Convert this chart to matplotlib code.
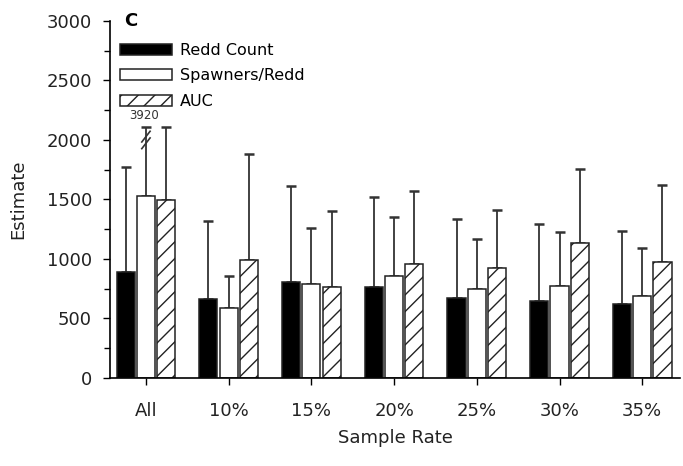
import numpy as np
import matplotlib
matplotlib.use("Agg")
from matplotlib import pyplot as plt

# values (upper error bar ends as drawn)
rates = ["All", "10%", "15%", "20%", "25%", "30%", "35%"]
redd = [893, 661, 809, 765, 670, 650, 622]
redd_top = [1775, 1317, 1616, 1524, 1336, 1294, 1238]
spawn = [1532, 591, 787, 857, 745, 773, 692]
spawn_top = [2112, 857, 1263, 1356, 1171, 1227, 1090]
auc = [1496, 989, 765, 955, 924, 1132, 977]
auc_top = [2112, 1882, 1406, 1569, 1412, 1754, 1624]
broken_label = "3920"   # true upper end of Spawners/Redd, All

plt.rcParams["font.family"] = "DejaVu Sans"
plt.rcParams["hatch.linewidth"] = 1.0

fig = plt.figure(figsize=(6.83, 4.66), dpi=100)
ax = fig.add_axes([0.161, 0.189, 0.835, 0.766])

x = np.arange(len(rates))
w = 0.22
off = 0.245
series = [
    (redd, redd_top, "black", None, "Redd Count"),
    (spawn, spawn_top, "white", None, "Spawners/Redd"),
    (auc, auc_top, "white", "//", "AUC"),
]
for i, (vals, tops, fc, hatch, lab) in enumerate(series):
    xs = x + (i - 1) * off
    vals = np.array(vals)
    err = np.array(tops) - vals
    ax.errorbar(xs, vals, yerr=[np.zeros_like(err), err], fmt="none",
                ecolor="#333333", elinewidth=1.3, capsize=3.6, capthick=1.8,
                zorder=1)
    ax.bar(xs, vals, w, color=fc, edgecolor="#222222", linewidth=1.1,
           hatch=hatch, label=lab, zorder=2)

# axis break marks on the clipped error bar
xb = x[0]
for dy in (-28, 28):
    ax.plot([xb - 0.05, xb + 0.05], [2000 + dy - 45, 2000 + dy + 45],
            color="#333333", lw=1.2, zorder=3)
ax.text(xb - 0.02, 2150, broken_label, ha="center", va="bottom", fontsize=8.5,
        color="#333333")

ax.set_xlim(-0.435, 6.46)
ax.set_ylim(0, 3000)
ax.set_yticks(np.arange(0, 3001, 500))
ax.set_yticks(np.arange(0, 3001, 250), minor=True)
ax.set_xticks(x)
ax.set_xticklabels(rates)
ax.tick_params(axis="both", labelsize=13, direction="out", length=5, width=1,
               labelcolor="#222222")
ax.tick_params(axis="y", which="minor", length=4, width=1)
ax.tick_params(axis="y", pad=8)
ax.tick_params(axis="x", pad=12)
for s in ("top", "right"):
    ax.spines[s].set_visible(False)
for s in ("left", "bottom"):
    ax.spines[s].set_linewidth(1.2)

ax.set_xlabel("Sample Rate", fontsize=13, labelpad=7, color="#222222")
ax.set_ylabel("Estimate", fontsize=13, labelpad=14, color="#222222")

ax.text(0.025, 1.0, "C", transform=ax.transAxes, fontsize=13,
        fontweight="bold", va="center")
ax.legend(loc="upper left", bbox_to_anchor=(0.0, 0.965), frameon=False,
          fontsize=11.5, handlelength=3.3, handleheight=0.7,
          labelspacing=0.65, handletextpad=0.5, borderaxespad=0.2)

fig.savefig("out.png", dpi=100)
